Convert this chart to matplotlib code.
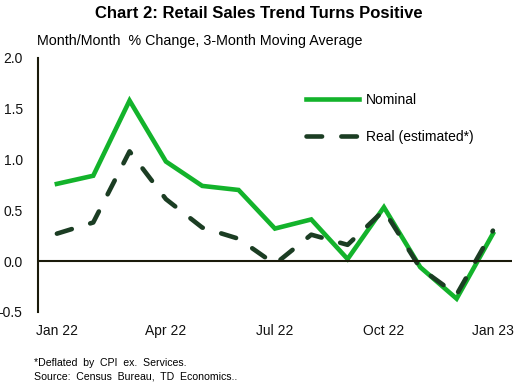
import matplotlib.pyplot as plt

plt.rcParams["font.family"] = ["Liberation Sans", "DejaVu Sans"]

months = ["Jan 22", "Feb 22", "Mar 22", "Apr 22", "May 22", "Jun 22", "Jul 22",
          "Aug 22", "Sep 22", "Oct 22", "Nov 22", "Dec 22", "Jan 23"]
nominal = [0.76, 0.84, 1.58, 0.98, 0.74, 0.70, 0.32, 0.41, 0.02, 0.53, -0.06, -0.37, 0.27]
real = [0.27, 0.38, 1.08, 0.61, 0.33, 0.22, -0.03, 0.26, 0.16, 0.50, -0.07, -0.33, 0.30]
tick_labels = ["Jan 22", "Apr 22", "Jul 22", "Oct 22", "Jan 23"]

x = list(range(len(months)))

fig = plt.figure(figsize=(5.17, 3.86), dpi=100)
ax = fig.add_axes([0.0735, 0.192, 0.9165, 0.658])

ax.plot(x, nominal, color="#13B32B", lw=3.3, label="Nominal", solid_joinstyle="miter")
ax.plot(x, real, color="#1B3D23", lw=3.3, dashes=(3.4, 4.2), dash_capstyle="round",
        label="Real (estimated*)")
ax.axhline(0, color="#1a1a0a", lw=1.5)

ax.set_xlim(-0.52, 12.52)
ax.set_ylim(-0.5, 2.0)
ax.set_yticks([-0.5, 0.0, 0.5, 1.0, 1.5, 2.0])
ax.set_yticklabels(["-0.5", "0.0", "0.5", "1.0", "1.5", "2.0"])
ax.set_xticks([0, 3, 6, 9, 12])
ax.set_xticklabels(tick_labels)
ax.tick_params(axis="both", length=0, labelsize=10, colors="#111111")
ax.tick_params(axis="y", pad=11)
ax.tick_params(axis="x", pad=9)
for s in ["top", "right", "bottom"]:
    ax.spines[s].set_visible(False)
ax.spines["left"].set_color("#1a1a0a")
ax.spines["left"].set_linewidth(1.5)

ax.legend(loc="upper left", bbox_to_anchor=(0.54, 0.91), frameon=False, fontsize=10,
          handlelength=3.8, labelspacing=1.65, handletextpad=0.5)

fig.text(0.5, 0.965, "Chart 2: Retail Sales Trend Turns Positive", ha="center", va="center",
         fontsize=12, fontweight="bold")
fig.text(0.071, 0.895, "Month/Month  % Change, 3-Month Moving Average", ha="left", va="center",
         fontsize=10.3)
fig.text(0.066, 0.06, "*Deflated  by  CPI  ex.  Services.", fontsize=7.6, va="center")
fig.text(0.066, 0.025, "Source:  Census  Bureau,  TD  Economics..", fontsize=7.6, va="center")

fig.savefig("out.png", dpi=100)
